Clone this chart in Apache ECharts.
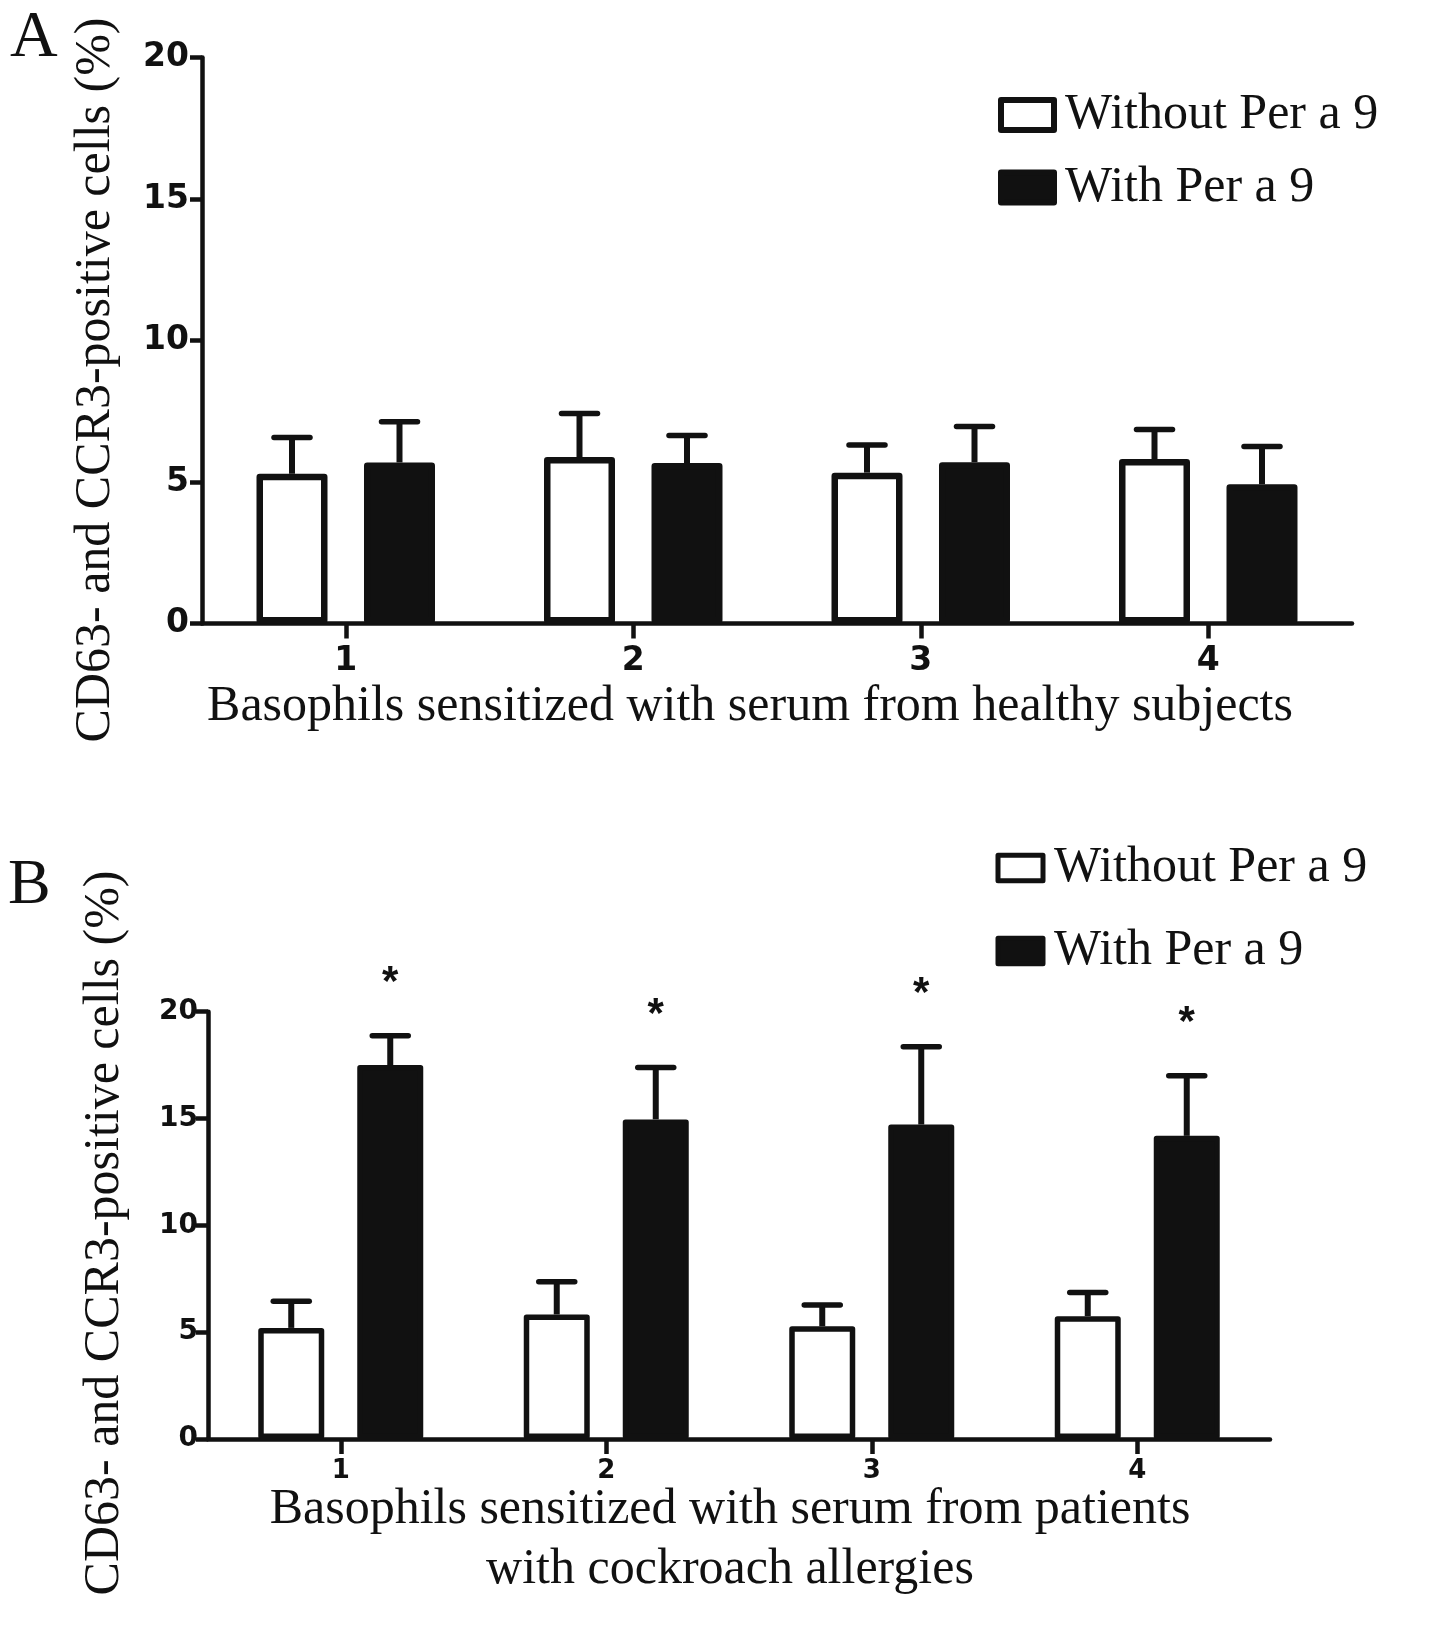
<!DOCTYPE html>
<html><head><meta charset="utf-8">
<script src="https://cdn.jsdelivr.net/npm/echarts@6/dist/echarts.min.js"></script>
<style>html,body{margin:0;padding:0;background:#fff}#c{width:1441px;height:1628px}</style>
</head><body><div id="c"></div>
<script>
// ---- data ----
const categories = ['1', '2', '3', '4'];
const seriesNames = ['Without Per a 9', 'With Per a 9'];
const aWithout    = [5.29, 5.88, 5.33, 5.81];
const aWith       = [5.69, 5.67, 5.70, 4.92];
const aWithoutErr = [6.57, 7.42, 6.31, 6.85];
const aWithErr    = [7.13, 6.64, 6.96, 6.25];
const bWithout    = [5.20, 5.83, 5.28, 5.75];
const bWith       = [17.50, 14.96, 14.72, 14.19];
const bWithoutErr = [6.45, 7.36, 6.27, 6.86];
const bWithErr    = [18.87, 17.39, 18.36, 17.00];
const bWithSig    = ['*', '*', '*', '*'];
const yMin = 0, yMax = 20, yStep = 5;
const panelLabels = ['A', 'B'];
const yTitle = 'CD63- and CCR3-positive cells (%)';
const xTitleA = 'Basophils sensitized with serum from healthy subjects';
const xTitleB = 'Basophils sensitized with serum from patients\nwith cockroach allergies';

// ---- styling ----
const INK = '#111';
const SERIF = '"Liberation Serif", "Times New Roman", serif';
const SANS = '"Liberation Sans", Arial, sans-serif';
const TICKFONT = '"DejaVu Sans", Arial, sans-serif';

function errRender(offset, sig) {
  return function (params, api) {
    const i = api.value(0), mean = api.value(1), top = api.value(2);
    const pm = api.coord([i, mean]);
    const pt = api.coord([i, top]);
    const x = pm[0] + offset;
    const ch = [
      { type: 'line', shape: { x1: x, y1: pm[1], x2: x, y2: pt[1] }, style: { stroke: INK, lineWidth: 6 } },
      { type: 'line', shape: { x1: x - 18, y1: pt[1], x2: x + 18, y2: pt[1] }, style: { stroke: INK, lineWidth: 5.5, lineCap: 'round' } }
    ];
    if (sig && sig[params.dataIndex]) {
      ch.push({ type: 'text', style: { x: x, y: pt[1] - 52, text: sig[params.dataIndex], font: 'bold 42px ' + SANS, fill: INK,
        align: 'center', verticalAlign: 'middle', textAlign: 'center', textVerticalAlign: 'middle' } });
    }
    return { type: 'group', children: ch };
  };
}

function xAxisCfg(g, fs, margin) {
  return { gridIndex: g, type: 'category', data: categories,
    axisLine: { show: true, lineStyle: { color: INK, width: 4.5 } },
    axisTick: { show: true, alignWithLabel: true, length: 15, lineStyle: { color: INK, width: 4.5 } },
    axisLabel: { color: INK, fontFamily: TICKFONT, fontWeight: 'bold', fontSize: fs, margin: margin },
    splitLine: { show: false } };
}
function yAxisCfg(g, fs, margin) {
  return { gridIndex: g, type: 'value', min: yMin, max: yMax, interval: yStep,
    axisLine: { show: true, lineStyle: { color: INK, width: 4.5 } },
    axisTick: { show: true, length: 12, lineStyle: { color: INK, width: 4.5 } },
    axisLabel: { color: INK, fontFamily: TICKFONT, fontWeight: 'bold', fontSize: fs, margin: margin },
    splitLine: { show: false } };
}
function barSeries(name, g, data, fill, bw, border, gap) {
  return { name: name, type: 'bar', xAxisIndex: g, yAxisIndex: g, data: data,
    barWidth: bw, barGap: gap,
    itemStyle: { color: fill, borderColor: INK, borderWidth: border, borderJoin: 'round' },
    emphasis: { disabled: true } };
}
function errSeries(g, means, tops, offset, sig) {
  return { type: 'custom', xAxisIndex: g, yAxisIndex: g, clip: false, z: 5,
    data: means.map((m, i) => [i, m, tops[i]]),
    encode: { x: 0, y: [1, 2] },
    renderItem: errRender(offset, sig) };
}
function legendCfg(left, top, w, h, gap, bw) {
  return { orient: 'vertical', left: left, top: top, padding: 0, itemWidth: w, itemHeight: h, itemGap: gap,
    selectedMode: false,
    textStyle: { fontFamily: SERIF, fontSize: 50, color: INK, padding: [0, 0, 0, 6] },
    data: [
      { name: seriesNames[0], icon: 'rect', itemStyle: { color: '#fff', borderColor: INK, borderWidth: bw, borderJoin: 'round' } },
      { name: seriesNames[1], icon: 'rect', itemStyle: { color: INK, borderColor: INK, borderWidth: bw, borderJoin: 'round' } }
    ] };
}
function txt(x, y, text, font, rot, extra) {
  return Object.assign({ type: 'text', x: x, y: y, rotation: rot || 0,
    style: Object.assign({ text: text, font: font, fill: INK, align: 'center', verticalAlign: 'middle',
      textAlign: 'center', textVerticalAlign: 'middle' }, extra || {}) });
}

const chart = echarts.init(document.getElementById('c'), null, { renderer: 'canvas' });
chart.setOption({
  animation: false,
  backgroundColor: '#fff',
  grid: [
    { left: 202, top: 57.4, width: 1150, height: 566.1 },
    { left: 208, top: 1011.7, width: 1062, height: 427.3 }
  ],
  xAxis: [xAxisCfg(0, 33, 21), xAxisCfg(1, 26, 19)],
  yAxis: [yAxisCfg(0, 33, 13), yAxisCfg(1, 28, 10)],
  legend: [legendCfg(998, 90, 53, 30, 22.5, 6), legendCfg(995.5, 843, 45, 25.5, 33, 5)],
  series: [
    barSeries(seriesNames[0], 0, aWithout, '#fff', 71, 6.5, '51.4%'),
    barSeries(seriesNames[1], 0, aWith, INK, 71, 6.5, '51.4%'),
    errSeries(0, aWithout, aWithoutErr, -53.75, null),
    errSeries(0, aWith, aWithErr, 53.75, null),
    barSeries(seriesNames[0], 1, bWithout, '#fff', 66, 5.5, '50%'),
    barSeries(seriesNames[1], 1, bWith, INK, 66, 5.5, '50%'),
    errSeries(1, bWithout, bWithoutErr, -49.5, null),
    errSeries(1, bWith, bWithErr, 49.5, bWithSig)
  ],
  graphic: [
    txt(10, 39, panelLabels[0], '66px ' + SERIF, 0, { align: 'left', textAlign: 'left' }),
    txt(8, 886, panelLabels[1], '64px ' + SERIF, 0, { align: 'left', textAlign: 'left' }),
    txt(96, 380, yTitle, '50px ' + SERIF, Math.PI / 2),
    txt(105, 1233, yTitle, '50px ' + SERIF, Math.PI / 2),
    txt(750, 707, xTitleA, '50px ' + SERIF, 0),
    txt(730, 1540, xTitleB, '50px ' + SERIF, 0, { lineHeight: 60 })
  ]
});
</script></body></html>
